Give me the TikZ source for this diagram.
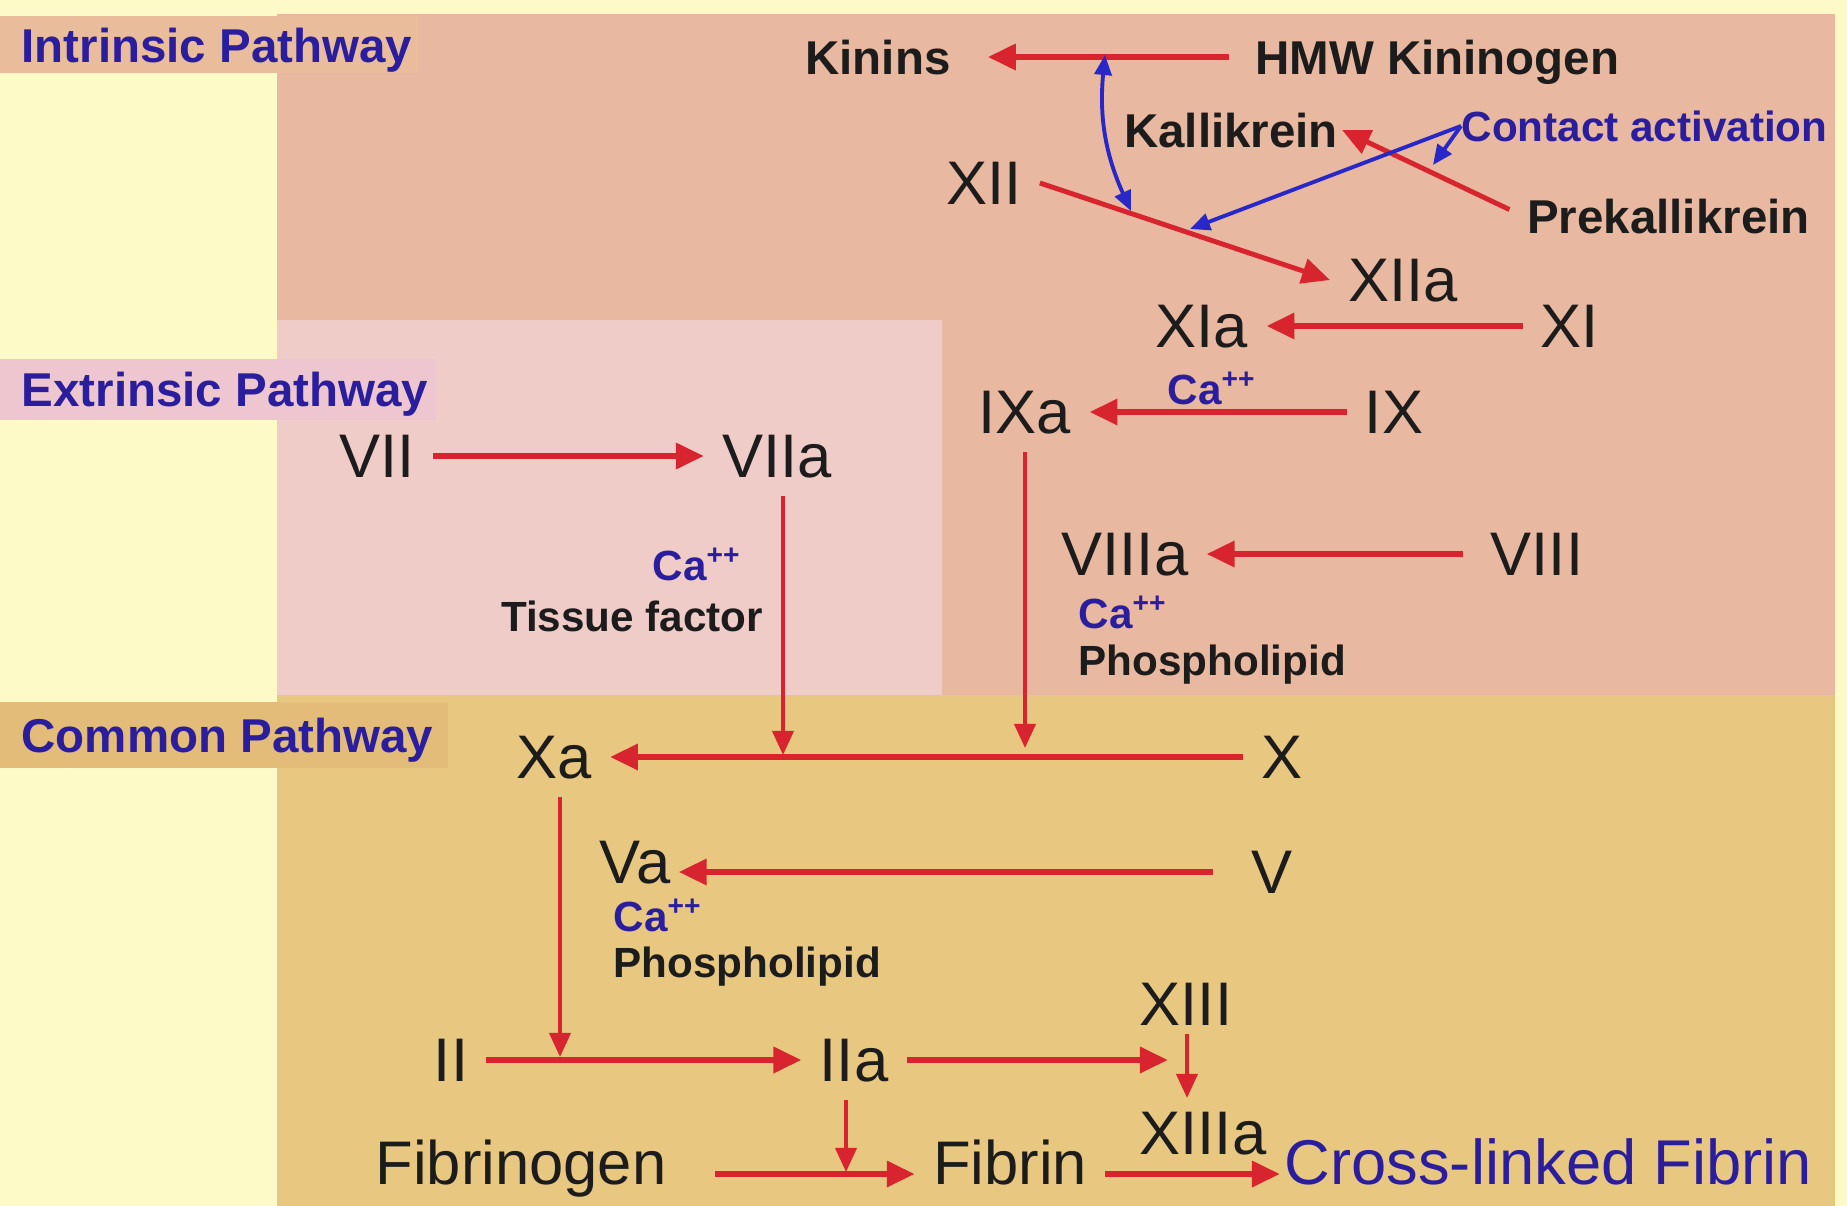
\documentclass[tikz,border=0pt]{standalone}
\usepackage{fontspec}
\setmainfont{Liberation Sans}
\usepackage{tikz}
\usetikzlibrary{arrows.meta,positioning,calc}
\definecolor{paper}{HTML}{FDFAC8}
\definecolor{intr}{HTML}{E8B8A0}
\definecolor{bandin}{HTML}{E9BD9C}
\definecolor{extr}{HTML}{F0CCC8}
\definecolor{bandex}{HTML}{EDC6D0}
\definecolor{comm}{HTML}{E8C880}
\definecolor{bandco}{HTML}{E2BC78}
\definecolor{ink}{HTML}{1C1C1C}
\definecolor{navy}{HTML}{2B1E9E}
\definecolor{blood}{HTML}{D8242E}
\definecolor{vein}{HTML}{2828C8}

\begin{document}
\begin{tikzpicture}[x=0.01cm,y=-0.01cm,
 fac/.style={font=\fontsize{17.5}{20}\selectfont,text=ink,inner sep=5pt,text height=12.5pt,text depth=0pt},
 tag/.style={font=\fontsize{13.5}{16}\selectfont\bfseries,text=ink,inner sep=1pt,text height=9.7pt,text depth=0pt},
 hdr/.style={font=\fontsize{13.5}{16}\selectfont\bfseries,text=navy,anchor=west,inner sep=0pt,text height=9.7pt,text depth=0pt},
 cof/.style={font=\fontsize{12}{14}\selectfont\bfseries,text=navy,inner sep=0pt,text height=8.6pt,text depth=0pt},
 aid/.style={font=\fontsize{12}{14}\selectfont\bfseries,text=ink,inner sep=0pt,text height=8.6pt,text depth=0pt},
 arr/.style={-{Triangle[length=0.28cm,width=0.25cm]},draw=blood,line width=1.8pt},
 varr/.style={-{Triangle[length=0.24cm,width=0.21cm]},draw=blood,line width=1.1pt},
 barr/.style={-{Triangle[length=0.2cm,width=0.17cm]},draw=vein,line width=1.1pt},
 bbarr/.style={{Triangle[length=0.2cm,width=0.17cm]}-{Triangle[length=0.2cm,width=0.17cm]},draw=vein,line width=1.1pt}]
\fill[paper] (0,0) rectangle (1847,1206);
\fill[intr] (277,14) rectangle (1835,695);
\fill[bandin] (0,16) rectangle (418,73);
\fill[extr] (277,320) rectangle (942,695);
\fill[bandex] (0,359) rectangle (436,420);
\fill[comm] (277,695) rectangle (1835,1206);
\fill[bandco] (0,702) rectangle (448,768);

\node[hdr] (ip) at (21,45) {Intrinsic Pathway};
\node[hdr] (ep) at (21,389) {Extrinsic Pathway};
\node[hdr] (cp) at (21,735) {Common Pathway};

\node[tag] (kin) at (878,57) {Kinins};
\node[tag,anchor=west] (hmw) at (1251,57) {HMW Kininogen};
\node[tag] (kal) at (1231,130) {Kallikrein};
\node[cof,anchor=west] (con) at (1461,126) {Contact activation};
\node[tag,anchor=west] (pk) at (1523,216) {Prekallikrein};
\node[fac] (f12) at (984,183) {XII};
\node[fac] (f12a) at (1403,280) {XIIa};
\node[fac] (f11a) at (1202,326) {XIa};
\node[fac] (f11) at (1570,326) {XI};
\node[cof] (ca1) at (1212,389) {Ca\textsuperscript{++}};
\node[fac] (f9a) at (1025,412) {IXa};
\node[fac] (f9) at (1394,412) {IX};
\node[fac] (f7) at (377,456) {VII};
\node[fac] (f7a) at (777,456) {VIIa};
\node[fac] (f8a) at (1125,554) {VIIIa};
\node[fac] (f8) at (1537,554) {VIII};
\node[cof] (ca2) at (697,565) {Ca\textsuperscript{++}};
\node[aid] (tf) at (632,616) {Tissue factor};
\node[cof,anchor=west] (ca3) at (1078,613) {Ca\textsuperscript{++}};
\node[aid,anchor=west] (pl1) at (1078,660) {Phospholipid};
\node[fac] (f10a) at (554,757) {Xa};
\node[fac] (f10) at (1282,757) {X};
\node[fac] (f5a) at (635,862) {Va};
\node[fac] (f5) at (1272,872) {V};
\node[cof,anchor=west] (ca4) at (613,916) {Ca\textsuperscript{++}};
\node[aid,anchor=west] (pl2) at (613,962) {Phospholipid};
\node[fac] (f13) at (1186,1004) {XIII};
\node[fac] (f2) at (451,1060) {II};
\node[fac] (f2a) at (854,1060) {IIa};
\node[fac] (f13a) at (1203,1133) {XIIIa};
\node[fac] (fbg) at (521,1163) {Fibrinogen};
\node[fac] (fb) at (1010,1163) {Fibrin};
\node[fac,font=\fontsize{18}{20}\selectfont,text=navy,anchor=west,inner sep=0pt] (xfb) at (1284,1163) {Cross-linked Fibrin};

\coordinate (k1) at (1105,55);
\coordinate (k2) at (1131,211);
\coordinate (c1) at (1190,229);
\coordinate (c2) at (1433,165);
\coordinate (j1) at (783,755);
\coordinate (j2) at (1025,748);
\coordinate (j3) at (560,1057);
\coordinate (j4) at (1168,1060);
\coordinate (j5) at (846,1172);
\coordinate (j6) at (1187,1098);

\draw[arr,shorten <=0.22cm,shorten >=0.33cm] (hmw.west) -- (kin.east);
\draw[bbarr] (k1) to[bend right=15] (k2);
\draw[arr,line width=1.4pt] (f12.east) -- (f12a.west);
\draw[arr,line width=1.4pt,shorten <=0.15cm] (pk.west) -- (kal.east);
\draw[barr] (con.west) -- (c1);
\draw[barr] (con.west) -- (c2);
\draw[arr] (f11) -- (f11a);
\draw[arr] (f9) -- (f9a);
\draw[arr] (f7) -- (f7a);
\draw[arr,shorten <=0.1cm] (f8) -- (f8a);
\draw[varr] (f7a.south -| j1) -- (j1);
\draw[varr] (f9a) -- (j2);
\draw[arr] (f10) -- (f10a);
\draw[arr,shorten <=0.2cm,shorten >=-0.1cm] (f5.west) -- (f5a.east |- f5.west);
\draw[varr] (f10a.south -| j3) -- (j3);
\draw[arr] (f2) -- (f2a);
\draw[arr] (f2a) -- (j4);
\draw[varr,shorten <=-0.1cm] (f13.south -| j6) -- (j6);
\draw[varr] (f2a.south -| j5) -- (j5);
\draw[arr,shorten <=0.3cm] ([yshift=-0.11cm]fbg.east) -- ([yshift=-0.11cm]fb.west);
\draw[arr] ([yshift=-0.11cm]fb.east) -- ([yshift=-0.11cm,xshift=-0.04cm]xfb.west);
\end{tikzpicture}
\end{document}
